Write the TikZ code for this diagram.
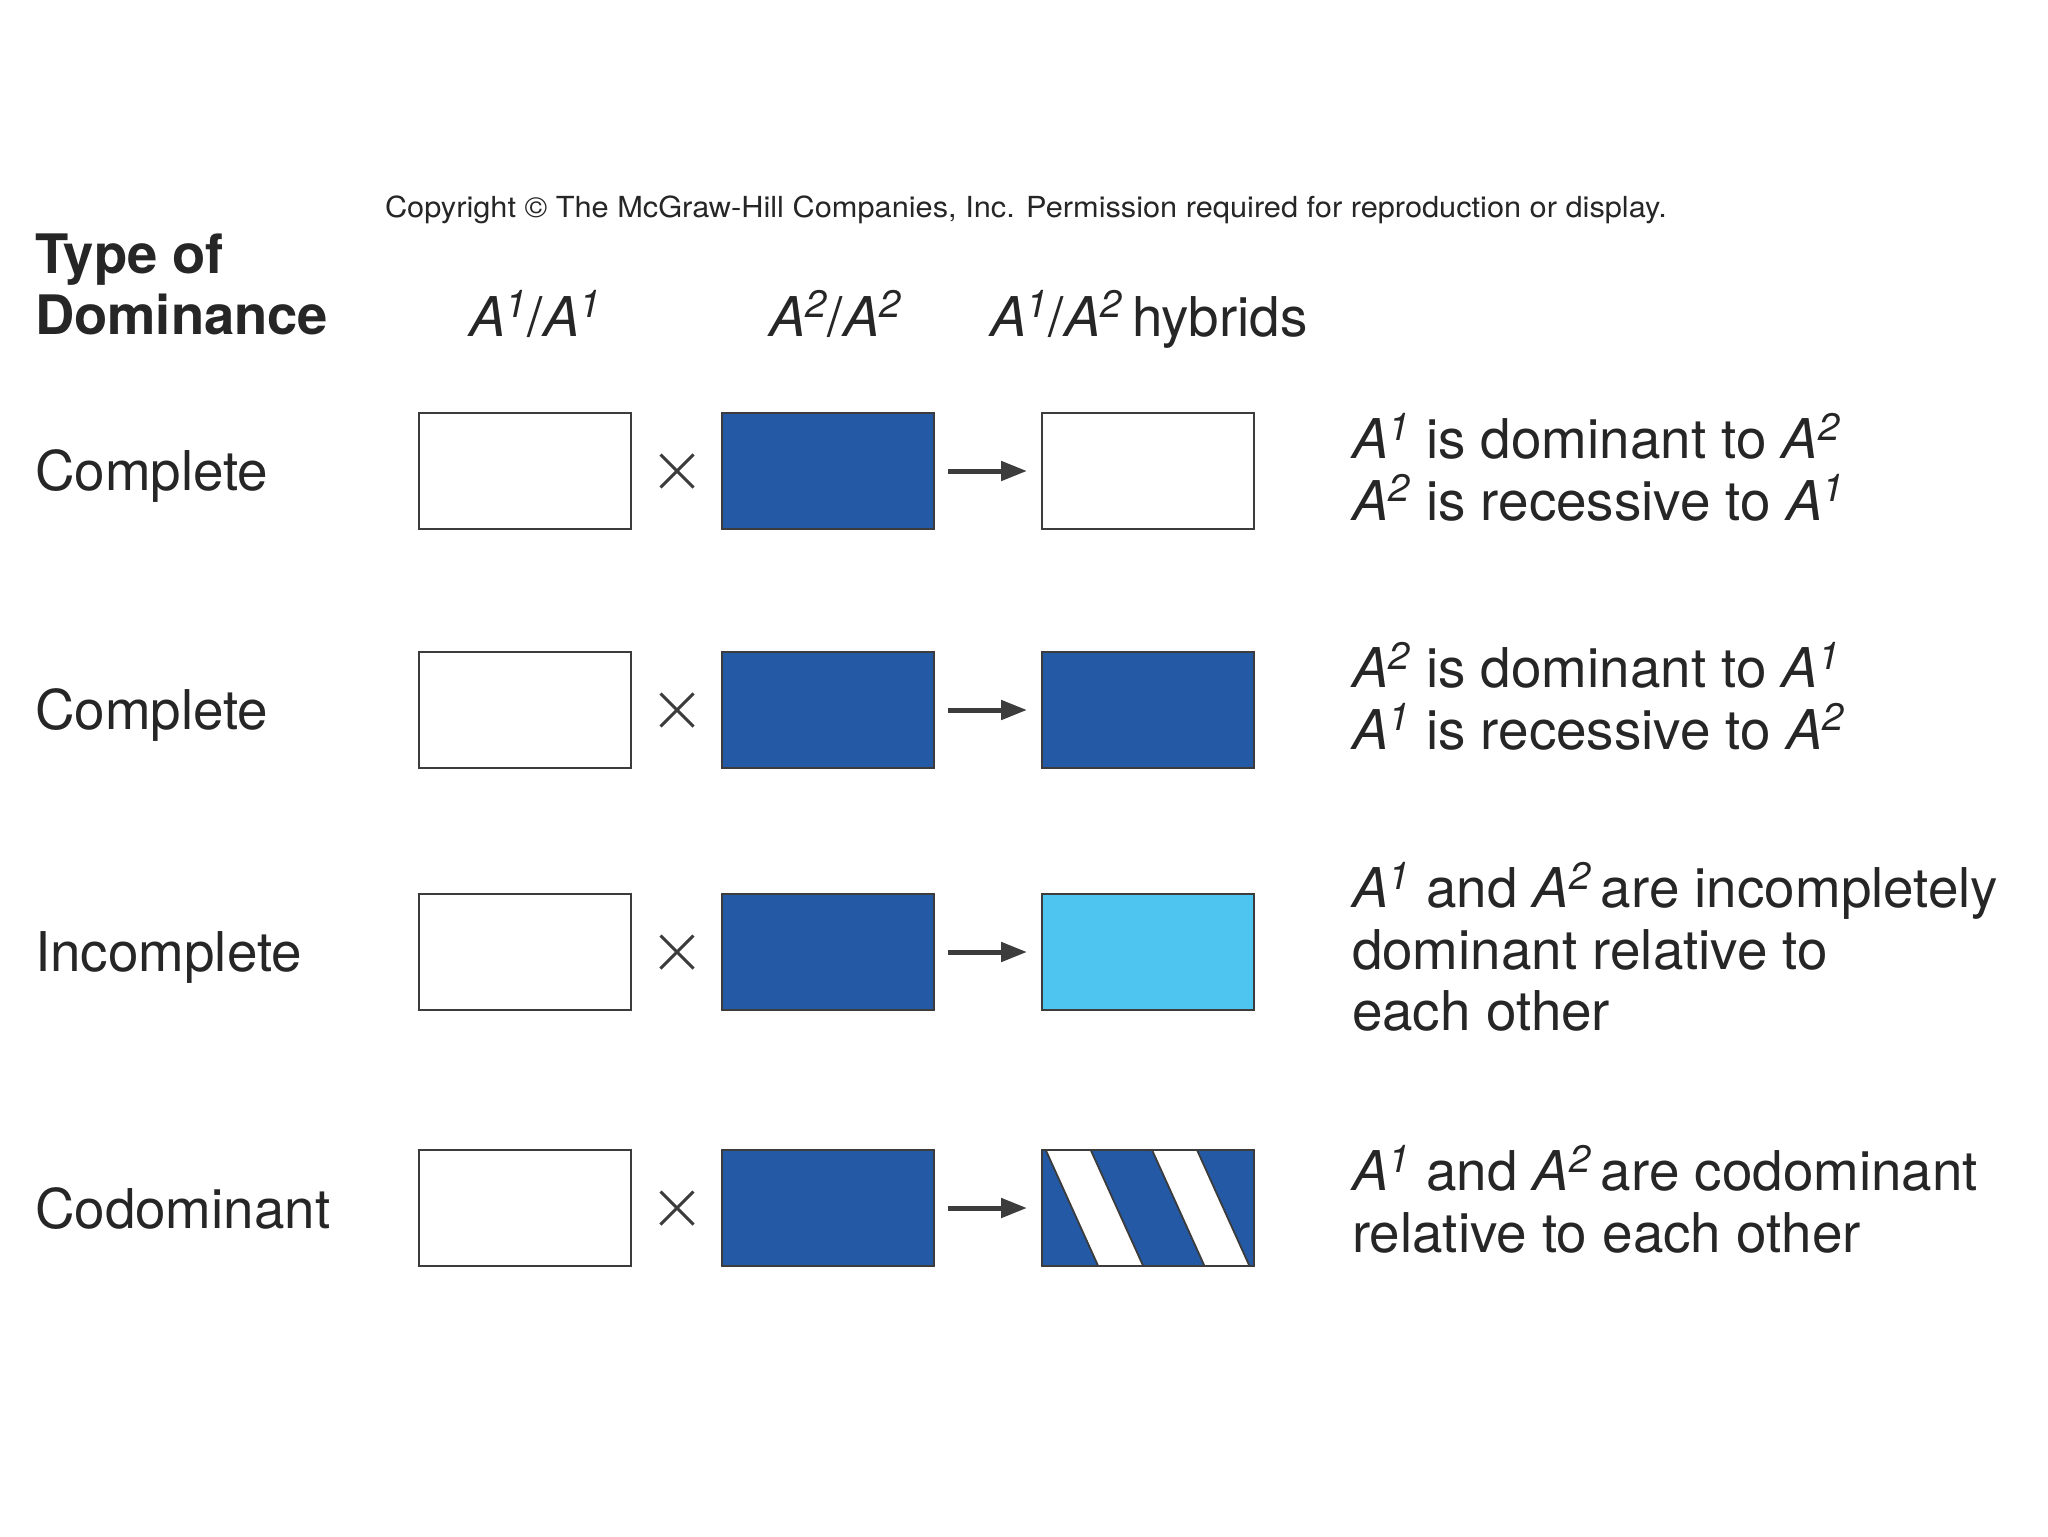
\documentclass[tikz,border=0pt]{standalone}
\usepackage{fontspec}
\setmainfont{TeX Gyre Heros}
\newfontfamily\copyfont[FakeStretch=1.06]{TeX Gyre Heros}
\usetikzlibrary{arrows.meta,shapes.misc}
\definecolor{dblue}{RGB}{35,89,165}
\definecolor{lblue}{RGB}{78,196,240}
\definecolor{ink}{RGB}{38,38,38}
\definecolor{edge}{RGB}{60,60,60}
\newcommand{\al}[1]{\textit{A\textsuperscript{#1}}}
\begin{document}
\begin{tikzpicture}[x=0.5pt,y=-0.5pt,
  every node/.style={text=ink, inner sep=0pt, outer sep=0pt},
  big/.style={font=\fontsize{27.4}{30.8}\selectfont},
  bigbold/.style={font=\fontsize{27.2}{30.8}\selectfont\bfseries},
  small/.style={font=\copyfont\fontsize{14.5}{17}\selectfont},
  box/.style={rectangle, draw=edge, line width=1.4pt, minimum width=106pt, minimum height=58pt},
  whitebox/.style={box, fill=white},
  bluebox/.style={box, fill=dblue},
  lightbox/.style={box, fill=lblue},
  stripe/.style={fill=white, draw=edge, line width=0.9pt},
  times/.style={cross out, draw=edge, line width=1.5pt, minimum width=16.5pt, minimum height=16.5pt},
  arr/.style={draw=edge, line width=2.5pt, -{Triangle[length=13pt,width=9.5pt]}, shorten <=7pt, shorten >=7.5pt}
]
\useasboundingbox[fill=white] (0,0) rectangle (2048,1536);

% copyright
\node[small, anchor=base west] (copy) at (385,217) {Copyright \textcopyright\ The McGraw-Hill Companies, Inc. Permission required for reproduction or display.};

% headers
\node[bigbold, anchor=base west] (type) at (35,273) {Type of};
\node[bigbold, anchor=base west] (dom) at (35,334) {Dominance};
\node[big, anchor=base west] (hd1) at (469,336) {\al{1}/\al{1}};
\node[big, anchor=base west] (hd2) at (769,336) {\al{2}/\al{2}};
\node[big, anchor=base west] (hd3) at (990,336) {\al{1}/\al{2}\,hybrids};

% row labels
\node[big, anchor=base west] (r1) at (35,490) {Complete};
\node[big, anchor=base west] (r2) at (35,729) {Complete};
\node[big, anchor=base west] (r3) at (35,971) {Incomplete};
\node[big, anchor=base west] (r4) at (35,1228) {Codominant};

% row 1
\node[whitebox] (w1) at (525,471) {};
\node[times] (x1) at (677,471) {};
\node[bluebox] (b1) at (828,471) {};
\node[whitebox] (h1) at (1148,471) {};
\draw[arr] (b1) -- (h1);
\node[big, anchor=west, align=left] (t1) at (1352,467) {\al{1} is dominant to \al{2}\\\al{2} is recessive to \al{1}};

% row 2
\node[whitebox] (w2) at (525,710) {};
\node[times] (x2) at (677,710) {};
\node[bluebox] (b2) at (828,710) {};
\node[bluebox] (h2) at (1148,710) {};
\draw[arr] (b2) -- (h2);
\node[big, anchor=west, align=left] (t2) at (1352,696) {\al{2} is dominant to \al{1}\\\al{1} is recessive to \al{2}};

% row 3
\node[whitebox] (w3) at (525,952) {};
\node[times] (x3) at (677,952) {};
\node[bluebox] (b3) at (828,952) {};
\node[lightbox] (h3) at (1148,952) {};
\draw[arr] (b3) -- (h3);
\node[big, anchor=west, align=left] (t3) at (1352,947) {\al{1} and \al{2}\,are incompletely\\dominant relative to\\each other};

% row 4
\node[whitebox] (w4) at (525,1208) {};
\node[times] (x4) at (677,1208) {};
\node[bluebox] (b4) at (828,1208) {};
\node[bluebox] (h4) at (1148,1208) {};
\begin{scope}
  \clip (h4.north west) rectangle (h4.south east);
  \begin{scope}[shift={(h4.north west)}]
    \filldraw[stripe] (-0.8,-10) -- (44.2,-10) -- (105.7,126) -- (60.7,126) -- cycle;
    \filldraw[stripe] (105.5,-10) -- (150.5,-10) -- (212,126) -- (167,126) -- cycle;
  \end{scope}
\end{scope}
\draw[draw=edge, line width=1.4pt] (h4.north west) rectangle (h4.south east);
\draw[arr] (b4) -- (h4);
\node[big, anchor=west, align=left] (t4) at (1352,1199) {\al{1} and \al{2}\,are codominant\\relative to each other};
\end{tikzpicture}
\end{document}
